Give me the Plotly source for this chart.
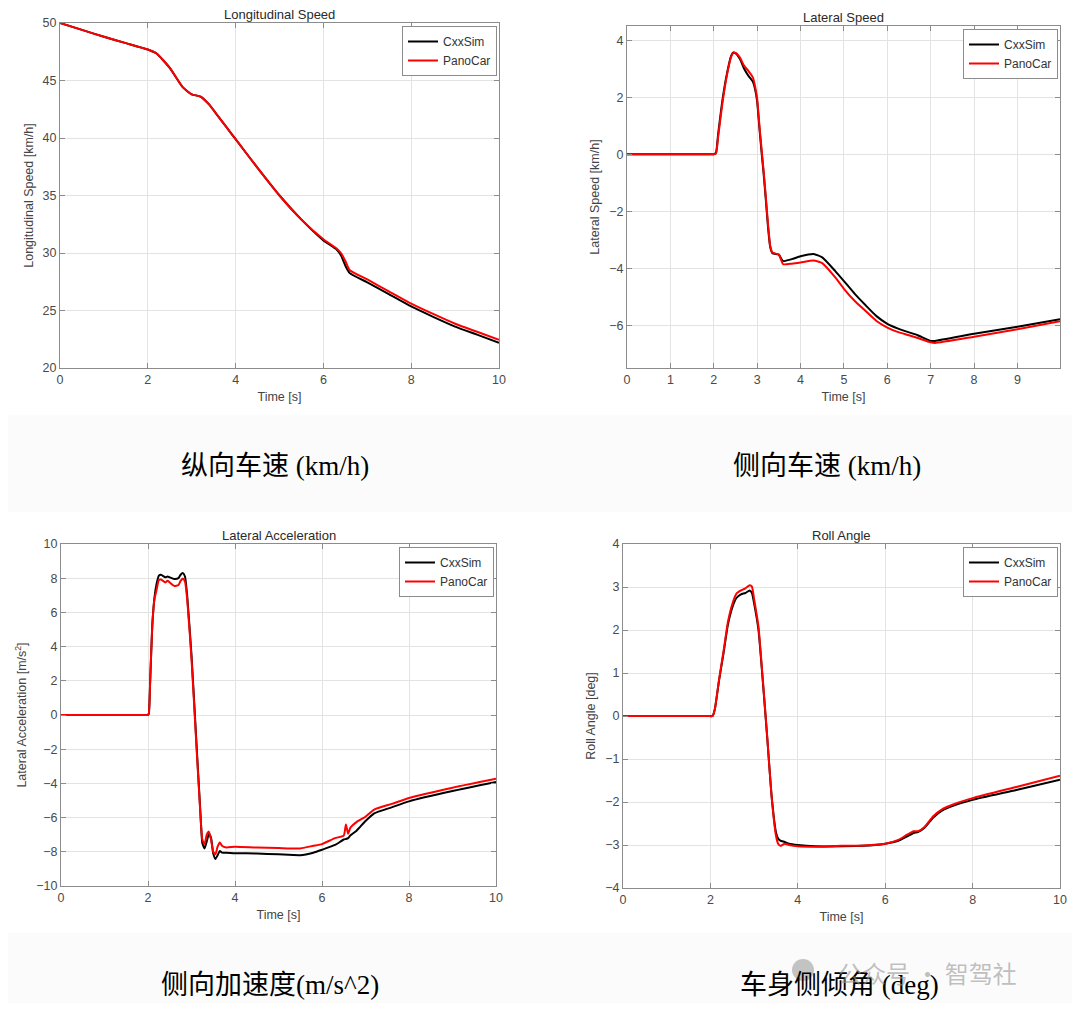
import plotly.graph_objects as go

# ---- Longitudinal Speed [km/h]
t_lon = [0, 0.5, 1.0, 1.5, 2.0, 2.2, 2.5, 2.8, 3.0, 3.2, 3.4, 3.6, 3.8, 4.0, 4.5, 5.0,
         5.5, 6.0, 6.3, 6.4, 6.5, 6.6, 7.0, 7.5, 8.0, 8.5, 9.0, 9.5, 10.0]
lon_cxx = [50.0, 49.4, 48.8, 48.25, 47.7, 47.35, 46.1, 44.4, 43.8, 43.6, 42.9, 41.9, 40.9, 39.9,
           37.4, 35.0, 32.9, 31.1, 30.3, 29.8, 28.9, 28.25, 27.45, 26.4, 25.35, 24.45, 23.6, 22.9, 22.2]
lon_pano = [50.0, 49.4, 48.8, 48.25, 47.7, 47.35, 46.1, 44.4, 43.8, 43.6, 42.9, 41.9, 40.9, 39.9,
            37.4, 35.0, 32.9, 31.2, 30.4, 30.0, 29.3, 28.5, 27.7, 26.65, 25.6, 24.7, 23.85, 23.15, 22.45]

# ---- Lateral Speed [km/h]
t_lat = [0, 1.9, 2.0, 2.05, 2.1, 2.2, 2.3, 2.4, 2.45, 2.5, 2.6, 2.7, 2.8, 2.9, 2.95, 3.0, 3.05,
         3.1, 3.15, 3.2, 3.25, 3.3, 3.35, 3.5, 3.55, 3.6, 3.8, 4.0, 4.3, 4.5, 4.8, 5.0,
         5.25, 5.5, 5.75, 6.0, 6.25, 6.5, 6.7, 7.0, 7.1, 8.0, 9.0, 9.98]
lat_cxx = [0, 0, 0, 0.05, 0.7, 1.9, 2.8, 3.45, 3.57, 3.55, 3.35, 3.0, 2.75, 2.55, 2.3, 1.85, 0.95,
           0.1, -0.7, -1.6, -2.55, -3.25, -3.47, -3.52, -3.65, -3.75, -3.68, -3.58, -3.5, -3.62,
           -4.1, -4.45, -4.9, -5.3, -5.68, -5.95, -6.12, -6.25, -6.35, -6.55, -6.55, -6.3, -6.05, -5.79]
lat_pano = [0, 0, 0, 0.02, 0.6, 1.8, 2.75, 3.42, 3.56, 3.56, 3.4, 3.1, 2.92, 2.7, 2.4, 1.95, 1.05,
            0.2, -0.6, -1.5, -2.45, -3.2, -3.45, -3.52, -3.7, -3.86, -3.84, -3.8, -3.73, -3.82,
            -4.32, -4.72, -5.15, -5.5, -5.85, -6.08, -6.24, -6.35, -6.45, -6.6, -6.62, -6.4, -6.14, -5.86]

# ---- Lateral Acceleration [m/s^2]
t_acc = [0, 1.9, 2.0, 2.02, 2.05, 2.1, 2.15, 2.2, 2.25, 2.3, 2.4, 2.45, 2.5, 2.6, 2.7, 2.75, 2.8,
         2.85, 2.9, 3.0, 3.1, 3.2, 3.25, 3.3, 3.35, 3.4, 3.45, 3.5, 3.55, 3.6, 3.65, 3.7, 3.8,
         4.0, 4.5, 5.0, 5.5, 5.8, 6.0, 6.3, 6.5, 6.55, 6.6, 6.65, 6.8, 7.0, 7.2, 7.6, 8.0, 9.0, 10.0]
acc_cxx = [0, 0, 0, 0.1, 2.0, 5.3, 6.9, 7.7, 8.15, 8.2, 8.05, 8.1, 8.05, 7.95, 8.0, 8.2, 8.3,
           8.1, 7.0, 3.5, -1.0, -5.5, -7.5, -7.8, -7.4, -6.95, -7.2, -8.1, -8.42, -8.2, -7.95,
           -8.05, -8.05, -8.08, -8.1, -8.15, -8.2, -8.05, -7.88, -7.6, -7.28, -7.25, -7.2, -7.05,
           -6.75, -6.2, -5.75, -5.4, -5.05, -4.45, -3.92]
acc_pano = [0, 0, 0, 0.1, 2.0, 5.3, 6.8, 7.35, 7.9, 7.92, 7.75, 7.85, 7.75, 7.55, 7.6, 7.85, 7.98,
            7.8, 6.8, 3.3, -1.2, -5.6, -7.3, -7.55, -7.0, -6.82, -7.3, -8.0, -8.15, -7.7, -7.45,
            -7.65, -7.75, -7.7, -7.75, -7.78, -7.8, -7.65, -7.55, -7.2, -7.05, -6.4, -6.95, -6.6,
            -6.25, -5.95, -5.53, -5.2, -4.85, -4.25, -3.73]

# ---- Roll Angle [deg]
t_roll = [0, 1.95, 2.05, 2.1, 2.2, 2.3, 2.4, 2.5, 2.6, 2.7, 2.8, 2.9, 2.95, 3.0, 3.1, 3.2, 3.3,
          3.4, 3.5, 3.55, 3.6, 3.7, 3.8, 4.0, 4.4, 5.0, 5.5, 6.0, 6.3, 6.5, 6.65, 6.75, 6.9,
          7.1, 7.3, 7.6, 8.0, 9.0, 10.0]
roll_cxx = [0, 0, 0, 0.15, 0.84, 1.46, 2.12, 2.52, 2.75, 2.83, 2.86, 2.92, 2.86, 2.62, 2.0, 0.8,
            -0.5, -1.85, -2.7, -2.85, -2.9, -2.93, -2.97, -3.0, -3.03, -3.03, -3.02, -2.97,
            -2.9, -2.8, -2.72, -2.7, -2.6, -2.36, -2.2, -2.07, -1.95, -1.72, -1.48]
roll_pano = [0, 0, 0, 0.15, 0.86, 1.5, 2.18, 2.6, 2.85, 2.92, 2.97, 3.04, 3.01, 2.72, 2.08, 0.84,
             -0.48, -1.87, -2.78, -2.97, -3.02, -2.97, -3.0, -3.03, -3.04, -3.02, -3.01, -2.97,
             -2.88, -2.76, -2.68, -2.68, -2.58, -2.33, -2.17, -2.04, -1.91, -1.65, -1.39]

panels = [
    dict(t=t_lon, a=lon_cxx, b=lon_pano, title='Longitudinal Speed',
         ylabel='Longitudinal Speed [km/h]', xr=[0, 10], xt=[0, 2, 4, 6, 8, 10],
         yr=[20, 50], yt=[20, 25, 30, 35, 40, 45, 50],
         xd=[60, 499], yd=[23, 368]),
    dict(t=t_lat, a=lat_cxx, b=lat_pano, title='Lateral Speed',
         ylabel='Lateral Speed [km/h]', xr=[0, 9.98], xt=list(range(10)),
         yr=[-7.5, 4.5], yt=[-6, -4, -2, 0, 2, 4],
         xd=[627, 1060], yd=[26, 368]),
    dict(t=t_acc, a=acc_cxx, b=acc_pano, title='Lateral Acceleration',
         ylabel='Lateral Acceleration [m/s<sup>2</sup>]', xr=[0, 10], xt=[0, 2, 4, 6, 8, 10],
         yr=[-10, 10], yt=list(range(-10, 11, 2)),
         xd=[61, 496], yd=[544, 886]),
    dict(t=t_roll, a=roll_cxx, b=roll_pano, title='Roll Angle',
         ylabel='Roll Angle [deg]', xr=[0, 10], xt=[0, 2, 4, 6, 8, 10],
         yr=[-4, 4], yt=list(range(-4, 5)),
         xd=[623, 1060], yd=[544, 888]),
]

captions = ['纵向车速 (km/h)', '侧向车速 (km/h)', '侧向加速度(m/s^2)', '车身侧倾角 (deg)']
caption_pos = [(275, 466), (827, 466), (270, 985), (839, 985)]

W, H = 1080, 1019
OFF = 8  # page body margin shifts the figure; compensate


def px(x):
    return (x - OFF) / W


def py(y):
    return 1 - (y - OFF) / H


fig = go.Figure()
layout = dict(width=W, height=H, margin=dict(l=0, r=0, t=0, b=0, autoexpand=False),
              paper_bgcolor='white', plot_bgcolor='white',
              font=dict(family='Liberation Sans, Arial', size=12, color='#444'),
              annotations=[], shapes=[])

axis_common = dict(showline=True, linecolor='#8c8c8c', linewidth=1, mirror='ticks',
                   ticks='inside', ticklen=5, tickcolor='#8c8c8c', automargin=False,
                   showgrid=True, gridcolor='#e3e3e3', gridwidth=1, zeroline=False,
                   tickfont=dict(size=12.5, color='#4a4a4a'))

# light caption strips
for y0, y1 in [(415, 512), (933, 1003)]:
    layout['shapes'].append(dict(type='rect', xref='paper', yref='paper', layer='below',
                                 x0=0, x1=1, y0=py(y1), y1=py(y0),
                                 fillcolor='#fbfbfb', line=dict(width=0)))

for i, p in enumerate(panels):
    n = i + 1
    sfx = '' if n == 1 else str(n)
    leg = 'legend' if n == 1 else f'legend{n}'
    fig.add_trace(go.Scatter(x=p['t'], y=p['a'], mode='lines', name='CxxSim',
                             line=dict(color='black', width=2, shape='spline', smoothing=0.5),
                             xaxis=f'x{sfx}', yaxis=f'y{sfx}', legend=leg))
    fig.add_trace(go.Scatter(x=p['t'], y=p['b'], mode='lines', name='PanoCar',
                             line=dict(color='#ff0000', width=2, shape='spline', smoothing=0.5),
                             xaxis=f'x{sfx}', yaxis=f'y{sfx}', legend=leg))
    layout[f'xaxis{sfx}'] = dict(axis_common, domain=[px(p['xd'][0]), px(p['xd'][1])],
                                 range=p['xr'], tickvals=p['xt'], anchor=f'y{sfx}',
                                 title=dict(text='Time [s]', standoff=6,
                                            font=dict(size=12.5, color='#444')))
    layout[f'yaxis{sfx}'] = dict(axis_common, domain=[py(p['yd'][1]), py(p['yd'][0])],
                                 range=p['yr'], tickvals=p['yt'], anchor=f'x{sfx}',
                                 title=dict(text=p['ylabel'], standoff=6,
                                            font=dict(size=12.5, color='#444')))
    layout[leg] = dict(x=px(p['xd'][1] - 2), y=py(p['yd'][0] + 3),
                       xanchor='right', yanchor='top', bgcolor='white',
                       bordercolor='#8c8c8c', borderwidth=1,
                       font=dict(size=12, color='#333'), tracegroupgap=0)
    layout['annotations'].append(dict(text=p['title'], xref='paper', yref='paper',
                                      x=px((p['xd'][0] + p['xd'][1]) / 2),
                                      y=py(p['yd'][0] + 1), xanchor='center',
                                      yanchor='bottom', showarrow=False,
                                      font=dict(size=13, color='#2a2a2a')))

for text, (cx, cy) in zip(captions, caption_pos):
    layout['annotations'].append(dict(text=text, xref='paper', yref='paper',
                                      x=px(cx), y=py(cy), xanchor='center',
                                      yanchor='middle', showarrow=False,
                                      font=dict(family='Liberation Serif, Noto Sans CJK SC',
                                                size=27, color='black')))

# watermark
layout['shapes'].append(dict(type='circle', xref='paper', yref='paper',
                             x0=px(792), x1=px(814), y0=py(981), y1=py(959),
                             fillcolor='rgba(150,150,150,0.55)', line=dict(width=0)))
layout['annotations'].append(dict(text='公众号 · 智驾社', xref='paper', yref='paper',
                                  x=px(836), y=py(972), xanchor='left', yanchor='middle',
                                  showarrow=False,
                                  font=dict(family='Noto Sans CJK SC', size=24,
                                            color='rgba(150,150,150,0.6)')))

fig.update_layout(**layout)
fig.write_html('out.html')
